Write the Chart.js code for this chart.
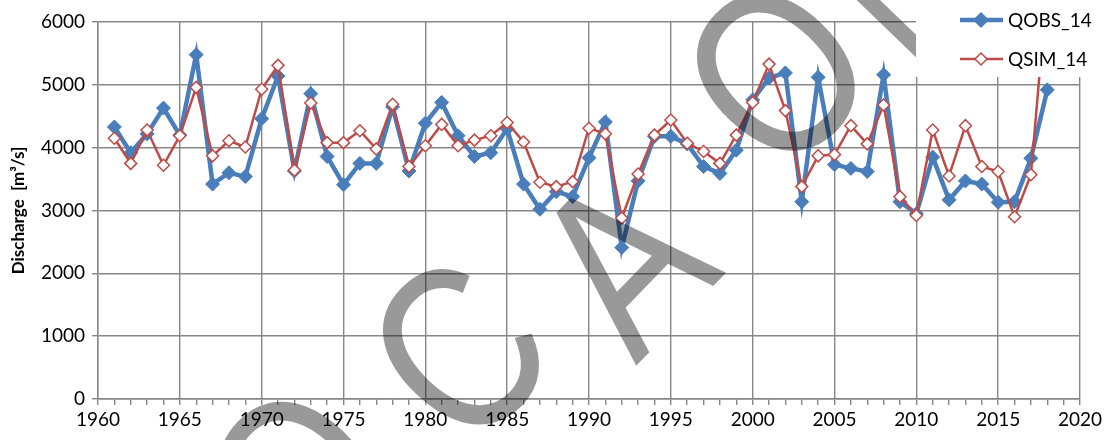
<!DOCTYPE html>
<html>
<head>
<meta charset="utf-8">
<script src="https://cdn.jsdelivr.net/npm/chart.js@4"></script>
<style>
  html, body { margin: 0; padding: 0; background: #fff; }
  #wrap { width: 1118px; height: 440px; }
</style>
</head>
<body>
<div id="wrap"><canvas id="chart" width="1118" height="440"></canvas></div>
<script>
// --- data ---
const years = [1961, 1962, 1963, 1964, 1965, 1966, 1967, 1968, 1969, 1970,
    1971, 1972, 1973, 1974, 1975, 1976, 1977, 1978, 1979, 1980,
    1981, 1982, 1983, 1984, 1985, 1986, 1987, 1988, 1989, 1990,
    1991, 1992, 1993, 1994, 1995, 1996, 1997, 1998, 1999, 2000,
    2001, 2002, 2003, 2004, 2005, 2006, 2007, 2008, 2009, 2010,
    2011, 2012, 2013, 2014, 2015, 2016, 2017, 2018];

const qobs = [4330, 3920, 4220, 4630, 4200, 5480, 3420, 3600, 3540, 4460,
    5140, 3630, 4860, 3860, 3410, 3750, 3750, 4650, 3630, 4390,
    4720, 4190, 3860, 3920, 4300, 3420, 3020, 3300, 3220, 3840,
    4410, 2410, 3470, 4180, 4180, 4060, 3700, 3590, 3960, 4760,
    5110, 5190, 3140, 5120, 3730, 3670, 3620, 5160, 3140, 2950,
    3850, 3170, 3470, 3420, 3130, 3140, 3830, 4920];

const qsim = [4150, 3750, 4280, 3720, 4190, 4960, 3870, 4110, 4010, 4930,
    5310, 3640, 4710, 4080, 4080, 4270, 3980, 4690, 3700, 4030,
    4370, 4030, 4120, 4190, 4400, 4090, 3450, 3380, 3460, 4310,
    4220, 2880, 3580, 4200, 4440, 4070, 3940, 3750, 4200, 4720,
    5330, 4590, 3380, 3870, 3890, 4350, 4060, 4680, 3220, 2920,
    4280, 3550, 4350, 3700, 3620, 2900, 3570, 6600];

const seriesNames = ['QOBS_14', 'QSIM_14'];
const yTicks = [0, 1000, 2000, 3000, 4000, 5000, 6000];
const xTicks = [1960, 1965, 1970, 1975, 1980, 1985, 1990, 1995, 2000, 2005, 2010, 2015, 2020];
const watermark = ['O', 'C', 'A', 'O', 'N'];

const BLUE = '#4A7EBB';
const RED = '#BE4B48';
const GRID = '#878787';
const FONT = 'Lato, "Open Sans", sans-serif';

// where each watermark letter sits (centre, px)
const markPos = [[296, 478], [456, 348], [620, 260], [774, 70], [898, -36]];

// watermark letters + legend box drawn over the plot
const overlayPlugin = {
    id: 'overlay',
    afterDatasetsDraw(chart) {
        const ctx = chart.ctx;

        const size = 238;
        ctx.save();
        ctx.fillStyle = 'rgba(0,0,0,0.40)';
        ctx.font = size + 'px "Liberation Sans", Arial, sans-serif';
        ctx.textAlign = 'center';
        ctx.textBaseline = 'alphabetic';
        watermark.forEach((ch, i) => {
            ctx.save();
            ctx.translate(markPos[i][0], markPos[i][1]);
            ctx.rotate(-46 * Math.PI / 180);
            ctx.scale(0.82, 1);
            ctx.fillText(ch, 0, size * 0.716 / 2);
            ctx.restore();
        });
        ctx.restore();

        // legend box (white, covers the top right corner of the plot)
        ctx.save();
        ctx.fillStyle = '#fff';
        ctx.fillRect(916, 0, 202, 77);
        const rows = [
            { y: 20, color: BLUE, width: 4.5, fill: BLUE, r: 7 },
            { y: 59, color: RED, width: 2.5, fill: '#fff', r: 6 }
        ];
        rows.forEach((row, i) => {
            ctx.strokeStyle = row.color;
            ctx.lineWidth = row.width;
            ctx.beginPath();
            ctx.moveTo(960, row.y);
            ctx.lineTo(1003, row.y);
            ctx.stroke();
            ctx.beginPath();
            ctx.moveTo(981, row.y - row.r);
            ctx.lineTo(981 + row.r, row.y);
            ctx.lineTo(981, row.y + row.r);
            ctx.lineTo(981 - row.r, row.y);
            ctx.closePath();
            ctx.fillStyle = row.fill;
            ctx.fill();
            ctx.lineWidth = 1.5;
            ctx.stroke();
            ctx.fillStyle = '#000';
            ctx.font = '19px ' + FONT;
            ctx.textAlign = 'left';
            ctx.textBaseline = 'middle';
            ctx.fillText(seriesNames[i], 1008, row.y + 1);
        });
        ctx.restore();
    }
};

const ctx = document.getElementById('chart').getContext('2d');
new Chart(ctx, {
    type: 'line',
    data: {
        datasets: [{
            label: seriesNames[0],
            data: years.map((yr, i) => ({ x: yr, y: qobs[i] })),
            borderColor: BLUE,
            backgroundColor: BLUE,
            borderWidth: 4.5,
            pointStyle: 'rectRot',
            pointRadius: 7,
            pointBackgroundColor: BLUE,
            pointBorderColor: BLUE,
            pointBorderWidth: 1,
            tension: 0,
            order: 1
        }, {
            label: seriesNames[1],
            data: years.map((yr, i) => ({ x: yr, y: qsim[i] })),
            borderColor: RED,
            backgroundColor: '#fff',
            borderWidth: 2.5,
            pointStyle: 'rectRot',
            pointRadius: 6,
            pointBackgroundColor: '#fff',
            pointBorderColor: RED,
            pointBorderWidth: 1.5,
            tension: 0,
            order: 0
        }]
    },
    options: {
        responsive: false,
        animation: false,
        devicePixelRatio: 1,
        layout: { padding: { top: 22, right: 38, left: 0, bottom: 0 } },
        plugins: {
            legend: { display: false },
            tooltip: { enabled: false }
        },
        scales: {
            x: {
                type: 'linear',
                min: xTicks[0],
                max: xTicks[xTicks.length - 1],
                afterBuildTicks: (scale) => {
                    const t = [];
                    for (let v = scale.min; v <= scale.max; v++) t.push({ value: v });
                    scale.ticks = t;
                },
                afterFit: (scale) => { scale.height = 41; },
                ticks: {
                    autoSkip: false,
                    maxRotation: 0,
                    padding: 3,
                    color: '#000',
                    font: { family: FONT, size: 19 },
                    callback: (v) => xTicks.includes(v) ? String(v) : ''
                },
                grid: {
                    color: (c) => (c.tick && xTicks.includes(c.tick.value)) ? GRID : 'rgba(0,0,0,0)',
                    tickColor: GRID,
                    lineWidth: 1.4,
                    tickLength: 6
                },
                border: { color: GRID, width: 1.4 }
            },
            y: {
                min: yTicks[0],
                max: yTicks[yTicks.length - 1],
                afterBuildTicks: (scale) => { scale.ticks = yTicks.map(v => ({ value: v })); },
                afterFit: (scale) => { scale.width = 98; },
                ticks: {
                    padding: 7,
                    color: '#000',
                    font: { family: FONT, size: 19 },
                    callback: (v) => String(v)
                },
                grid: {
                    color: GRID,
                    lineWidth: 1.4,
                    tickLength: 6
                },
                border: { color: GRID, width: 1.4 },
                title: {
                    display: true,
                    text: 'Discharge  [m³/s]',
                    color: '#000',
                    font: { family: FONT, size: 17, weight: 'bold' },
                    padding: { top: 8, bottom: 0 }
                }
            }
        }
    },
    plugins: [overlayPlugin]
});
</script>
</body>
</html>
